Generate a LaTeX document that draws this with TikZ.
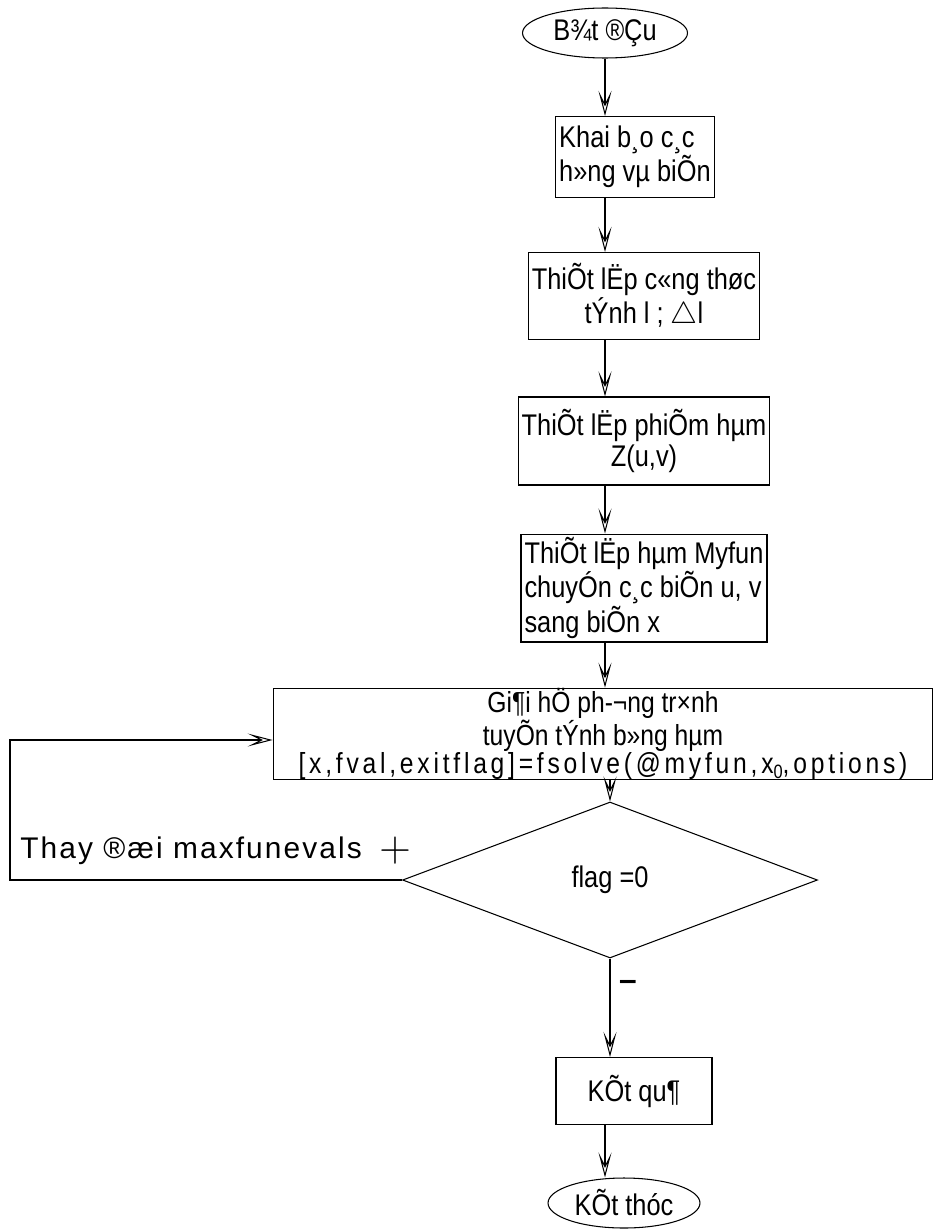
\documentclass[tikz,border=0pt]{standalone}
\usepackage{fontspec}
\setmainfont{Liberation Sans}
\newfontfamily\flowfont[FakeStretch=0.85]{Liberation Sans}
\newfontfamily\wideflowfont[LetterSpace=7]{Liberation Sans}
\newfontfamily\callfont[FakeStretch=0.85, LetterSpace=13]{Liberation Sans}
\usetikzlibrary{shapes.geometric,arrows.meta}
\newcommand{\flowsize}{\fontsize{17}{18}\selectfont}
\tikzset{
  flowline/.style={line width=0.6pt},
  arr/.style={flowline, -{Stealth[open, length=5mm, width=2.6mm, inset=2.6mm]}},
  procbox/.style={draw, flowline, font=\flowfont\flowsize, align=center, inner sep=2pt},
  termnode/.style={ellipse, draw, flowline, font=\flowfont\flowsize, inner sep=0pt},
  decision/.style={diamond, draw, flowline, font=\flowfont\flowsize, inner sep=0pt},
  sidelabel/.style={font=\wideflowfont\flowsize, inner sep=0pt},
}

\begin{document}
\begin{tikzpicture}[x=0.02cm, y=-0.02cm]
  \useasboundingbox (0,0) rectangle (935,1230);
  \coordinate (axis) at (605,0);
  \node[termnode, minimum width=3.3cm, minimum height=1.0cm] (start) at (605,33) {B¾t ®Çu};
  \node[procbox, align=left, minimum width=3.14cm, minimum height=1.62cm] (decl) at (635,157) {Khai b¸o c¸c\\h»ng vµ biÕn};
  \node[procbox, minimum width=4.32cm, minimum height=1.74cm] (formula) at (644,296) {ThiÕt lËp c«ng thøc\\tÝnh l ; $\triangle$l};
  \node[procbox, minimum width=4.32cm, minimum height=1.76cm] (functional) at (644,441) {ThiÕt lËp phiÕm hµm\\Z(u,v)};
  \node[procbox, align=left, minimum width=4.32cm, minimum height=2.06cm] (myfun) at (644,588) {ThiÕt lËp hµm Myfun\\chuyÓn c¸c biÕn u, v\\sang biÕn x};
  \node[procbox, inner sep=0pt, font=\flowfont\fontsize{16.5}{16}\selectfont, minimum width=13.2cm, minimum height=1.66cm] (solve) at (603,734)
    {Gi¶i hÖ ph-¬ng tr×nh\\tuyÕn tÝnh b»ng hµm\\{\callfont[x,fval,exitflag]=fsolve(@myfun,x\raisebox{-0.3ex}{\fontsize{11}{11}\selectfont 0},options)}};
  \node[decision, minimum width=8.3cm, minimum height=3.12cm] (cond) at (610,880) {flag =0};
  \node[procbox, minimum width=3.12cm, minimum height=1.34cm] (result) at (634,1091) {KÕt qu¶};
  \node[termnode, minimum width=3.04cm, minimum height=1.0cm] (stop) at (624,1203) {KÕt thóc};

  \draw[arr] (start.south) -- (start.south |- decl.north);
  \draw[arr] (decl.south -| axis) -- (formula.north -| axis);
  \draw[arr] (formula.south -| axis) -- (functional.north -| axis);
  \draw[arr] (functional.south -| axis) -- (myfun.north -| axis);
  \draw[arr] (myfun.south -| axis) -- (solve.north -| axis);
  \draw[arr] (solve.south -| cond.north) -- (cond.north);
  \draw[arr] (cond.south) -- (cond.south |- result.north);
  \draw[arr] (result.south -| axis) -- (stop.north -| axis);

  % vong lap
  \coordinate (loopturn) at (10,740);
  \draw[arr] (cond.west) -| (loopturn) -- (loopturn -| solve.west);
  \node[sidelabel, anchor=base west] (changelbl) at (20,858) {Thay ®æi maxfunevals};
  \node[inner sep=0pt, font=\fontsize{40}{40}\selectfont] (plus) at (395,851) {$+$};
  \node[inner sep=0pt, font=\fontsize{18}{18}\selectfont\bfseries] (minus) at (628,985) {--};
\end{tikzpicture}
\end{document}
